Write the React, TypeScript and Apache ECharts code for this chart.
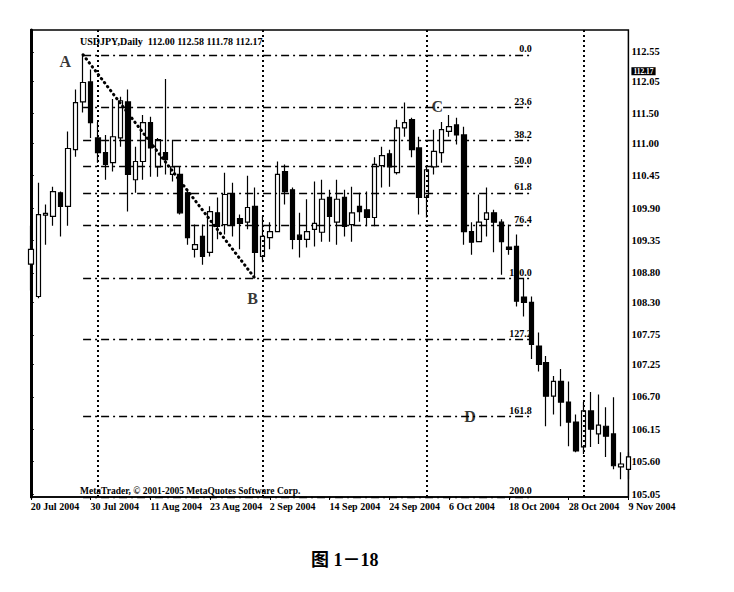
import { useEffect, useRef } from 'react';
import * as echarts from 'echarts';

// trading days shown on the chart, 20 Jul 2004 .. 9 Nov 2004
const dates = [
  '20 Jul 2004', '21 Jul 2004', '22 Jul 2004', '23 Jul 2004', '26 Jul 2004', '27 Jul 2004', '28 Jul 2004', '29 Jul 2004', '30 Jul 2004',
  '2 Aug 2004', '3 Aug 2004', '4 Aug 2004', '5 Aug 2004', '6 Aug 2004', '9 Aug 2004', '10 Aug 2004', '11 Aug 2004', '12 Aug 2004', '13 Aug 2004',
  '16 Aug 2004', '17 Aug 2004', '18 Aug 2004', '19 Aug 2004', '20 Aug 2004', '23 Aug 2004', '24 Aug 2004', '25 Aug 2004', '26 Aug 2004', '27 Aug 2004',
  '30 Aug 2004', '31 Aug 2004',
  '1 Sep 2004', '2 Sep 2004', '3 Sep 2004', '6 Sep 2004', '7 Sep 2004', '8 Sep 2004', '9 Sep 2004', '10 Sep 2004', '13 Sep 2004', '14 Sep 2004',
  '15 Sep 2004', '16 Sep 2004', '17 Sep 2004', '20 Sep 2004', '21 Sep 2004', '22 Sep 2004', '23 Sep 2004', '24 Sep 2004', '27 Sep 2004', '28 Sep 2004',
  '29 Sep 2004', '30 Sep 2004',
  '1 Oct 2004', '4 Oct 2004', '5 Oct 2004', '6 Oct 2004', '7 Oct 2004', '8 Oct 2004', '11 Oct 2004', '12 Oct 2004', '13 Oct 2004', '14 Oct 2004',
  '15 Oct 2004', '18 Oct 2004', '19 Oct 2004', '20 Oct 2004', '21 Oct 2004', '22 Oct 2004', '25 Oct 2004', '26 Oct 2004', '27 Oct 2004', '28 Oct 2004',
  '29 Oct 2004',
  '1 Nov 2004', '2 Nov 2004', '3 Nov 2004', '4 Nov 2004', '5 Nov 2004', '8 Nov 2004', '9 Nov 2004',
];

const opens = [
  108.95, 108.40, 109.78, 109.76, 110.16, 109.93, 110.89, 111.70, 112.04, 111.09,
  110.84, 110.67, 111.09, 111.70, 110.38, 110.69, 111.35, 110.60, 110.84, 110.47,
  110.47, 110.16, 109.20, 109.42, 109.15, 109.82, 109.62, 110.13, 109.72, 109.66,
  109.93, 109.08, 109.40, 109.50, 110.52, 110.21, 109.44, 109.37, 109.54, 109.49,
  110.08, 109.66, 110.08, 109.62, 109.93, 109.87, 109.74, 110.62, 110.82, 110.50,
  111.26, 111.40, 110.92, 110.08, 110.60, 110.84, 111.20, 111.31, 111.14, 109.50,
  109.33, 109.71, 109.82, 109.66, 109.24, 109.25, 108.39, 108.30, 107.56, 107.28,
  106.71, 106.96, 106.61, 106.27, 105.85, 106.46, 106.07, 106.20, 106.07, 105.51,
  105.47,
];
const closes = [
  109.20, 109.79, 109.81, 110.18, 109.93, 110.91, 111.69, 112.03, 111.35, 110.84,
  110.64, 111.11, 111.72, 110.47, 110.69, 111.35, 110.92, 111.06, 110.72, 110.60,
  109.82, 109.40, 109.28, 109.08, 109.84, 109.59, 110.13, 109.62, 109.64, 109.91,
  109.15, 109.42, 109.50, 110.47, 110.18, 109.37, 109.37, 109.50, 109.64, 110.05,
  109.76, 110.05, 109.59, 109.82, 109.84, 109.74, 110.64, 110.79, 110.60, 111.26,
  111.35, 110.89, 110.08, 110.55, 110.86, 111.23, 111.28, 111.14, 109.50, 109.32,
  109.66, 109.82, 109.66, 109.33, 109.20, 108.32, 108.30, 107.59, 107.25, 106.71,
  106.96, 106.61, 106.27, 105.78, 106.46, 106.15, 106.22, 106.03, 105.53, 105.56,
  105.68,
];
const lows = [
  108.50, 108.37, 109.28, 109.60, 109.42, 109.60, 110.77, 111.52, 111.09, 110.67,
  110.38, 110.52, 110.94, 109.84, 110.16, 110.38, 110.43, 110.43, 110.47, 110.35,
  109.79, 109.28, 109.06, 108.94, 109.08, 109.37, 109.45, 109.42, 109.20, 109.54,
  108.71, 108.98, 109.20, 109.49, 109.96, 109.20, 109.06, 109.23, 109.25, 109.33,
  109.33, 109.28, 109.42, 109.33, 109.67, 109.59, 109.59, 110.25, 110.26, 110.47,
  111.11, 110.76, 109.79, 109.74, 110.47, 110.67, 111.11, 110.98, 109.28, 109.11,
  109.32, 109.42, 109.15, 108.77, 109.11, 108.23, 108.06, 107.34, 107.13, 106.20,
  106.40, 106.20, 105.86, 105.76, 105.73, 105.85, 105.90, 105.68, 105.47, 105.30,
  105.30,
];
const highs = [
  109.60, 110.33, 109.96, 110.26, 110.18, 111.20, 111.91, 112.50, 112.25, 111.36,
  111.14, 111.75, 111.79, 111.91, 110.94, 111.48, 111.45, 111.09, 112.09, 111.06,
  110.60, 110.21, 109.62, 109.62, 109.93, 110.08, 110.50, 110.33, 109.79, 110.45,
  110.25, 109.76, 109.66, 110.69, 110.64, 110.25, 109.82, 110.05, 110.35, 110.38,
  110.21, 110.38, 110.21, 110.26, 110.16, 110.18, 110.76, 110.94, 110.89, 111.40,
  111.69, 111.43, 111.11, 110.60, 111.23, 111.36, 111.48, 111.43, 111.28, 109.66,
  110.13, 110.25, 109.87, 109.71, 109.62, 109.45, 108.72, 108.40, 107.79, 107.39,
  107.05, 107.17, 106.96, 106.40, 106.61, 106.78, 106.74, 106.52, 106.69, 105.76,
  105.76,
];

const yTicks = [105.05, 105.6, 106.15, 106.7, 107.25, 107.75, 108.3, 108.8, 109.35, 109.9, 110.45, 111.0, 111.5, 112.05, 112.55];
const xLabelIdx = [0, 8, 16, 24, 32, 40, 48, 56, 64, 72, 80];
const monthStarts = [9, 31, 53, 74];
const fibRatios = [0, 23.6, 38.2, 50.0, 61.8, 76.4, 100.0, 127.2, 161.8, 200.0];
const swingHighIdx = 7;
const swingLowIdx = 30;
const pointLabels = [
  { name: 'A', value: [4.6, 112.38] },
  { name: 'B', value: [29.7, 108.37] },
  { name: 'C', value: [54.4, 111.63] },
  { name: 'D', value: [58.8, 106.37] },
];
const lastQuote = 112.17;
const header = 'USDJPY,Daily  112.00 112.58 111.78 112.17';
const copyright = 'MetaTrader, © 2001-2005 MetaQuotes Software Corp.';
const caption = '图 1－18';

const Y_MIN = 105.0;
const Y_MAX = 112.92;
const FIB_END = 67.2;
const SERIF = "'Liberation Serif', 'Times New Roman', serif";

export default function App() {
  const chartRef = useRef<HTMLDivElement>(null);

  useEffect(() => {
    if (!chartRef.current) return;
    document.body.style.margin = '0';
    const chart = echarts.init(chartRef.current, undefined, { renderer: 'svg' });

    const candleData = dates.map((_, i) => [i, opens[i], closes[i], lows[i], highs[i]]);
    const swingHigh = highs[swingHighIdx];
    const swingLow = lows[swingLowIdx];

    const fibStyle = { color: '#000', width: 1.4, type: [8, 4, 2, 4] as number[] };
    const fibLines = fibRatios.map((r) => {
      // the 200 level sits just under the frame, keep it on the bottom edge
      const level = Math.max(swingHigh - (r / 100) * (swingHigh - swingLow), Y_MIN + 0.001);
      return [
        {
          coord: [swingHighIdx, level],
          lineStyle: fibStyle,
          label: {
            show: true,
            position: 'insideEndTop',
            distance: 1,
            formatter: r.toFixed(1),
            color: '#000',
            fontFamily: SERIF,
            fontWeight: 'bold',
            fontSize: 10,
          },
        },
        { coord: [FIB_END, level] },
      ];
    });

    const separators = monthStarts.map((i) => ({
      xAxis: i,
      lineStyle: { color: '#000', width: 2, type: [2, 3] as number[] },
      label: { show: false },
    }));

    const quoteTag = {
      yAxis: lastQuote,
      lineStyle: { color: 'rgba(0,0,0,0)', width: 0 },
      label: {
        show: true,
        position: 'end',
        distance: 3,
        offset: [0, -3],
        formatter: lastQuote.toFixed(2),
        backgroundColor: '#000',
        color: '#fff',
        padding: [0, 2],
        lineHeight: 8,
        fontFamily: SERIF,
        fontWeight: 'bold',
        fontSize: 7.5,
      },
    };

    const option: any = {
      animation: false,
      backgroundColor: '#fff',
      title: [
        {
          text: header,
          left: 75,
          top: 31,
          textStyle: { fontFamily: SERIF, fontWeight: 'bold', fontSize: 10, color: '#000' },
        },
        {
          text: copyright,
          left: 75,
          top: 481,
          textStyle: { fontFamily: SERIF, fontWeight: 'bold', fontSize: 9.5, color: '#000' },
        },
        {
          text: caption,
          left: 306,
          top: 546,
          textStyle: {
            fontFamily: "'Liberation Serif', 'Noto Sans CJK SC', serif",
            fontWeight: 'bold',
            fontSize: 18,
            color: '#000',
          },
        },
      ],
      grid: {
        left: 30.8,
        top: 30,
        width: 597.6,
        height: 467,
        show: true,
        borderColor: '#000',
        borderWidth: 1.5,
        backgroundColor: '#fff',
      },
      xAxis: {
        type: 'value',
        min: 0,
        max: 80,
        splitLine: { show: false },
        axisLine: { show: true, lineStyle: { color: '#000', width: 1.5 } },
        axisTick: { show: true, customValues: xLabelIdx, length: 3, lineStyle: { color: '#000' } },
        axisLabel: {
          customValues: xLabelIdx,
          formatter: (v: number) => dates[Math.round(v)] ?? '',
          align: 'left',
          margin: 4,
          color: '#000',
          fontFamily: SERIF,
          fontWeight: 'bold',
          fontSize: 10,
        },
      },
      yAxis: [
        {
          type: 'value',
          position: 'right',
          min: Y_MIN,
          max: Y_MAX,
          splitLine: { show: false },
          axisLine: { show: true, lineStyle: { color: '#000', width: 1.5 } },
          axisTick: { show: true, customValues: yTicks, length: 3, lineStyle: { color: '#000' } },
          axisLabel: {
            customValues: yTicks,
            formatter: (v: number) => v.toFixed(2),
            margin: 3,
            lineHeight: 10,
            color: '#000',
            fontFamily: SERIF,
            fontWeight: 'bold',
            fontSize: 10.5,
          },
        },
        {
          type: 'value',
          position: 'left',
          min: Y_MIN,
          max: Y_MAX,
          splitLine: { show: false },
          axisLine: { show: true, lineStyle: { color: '#000', width: 3 } },
          axisTick: { show: false },
          axisLabel: { show: false },
        },
      ],
      series: [
        {
          name: 'USDJPY',
          type: 'candlestick',
          data: candleData,
          encode: { x: 0, y: [1, 2, 3, 4] },
          barWidth: 5,
          itemStyle: {
            color: '#fff',
            color0: '#000',
            borderColor: '#000',
            borderColor0: '#000',
            borderWidth: 1.2,
          },
          markLine: {
            silent: true,
            symbol: ['none', 'none'],
            animation: false,
            data: [...fibLines, ...separators, quoteTag],
          },
        },
        {
          name: 'AB',
          type: 'line',
          data: [
            [swingHighIdx, swingHigh],
            [swingLowIdx, swingLow],
          ],
          symbol: 'none',
          silent: true,
          lineStyle: { color: '#000', width: 3, type: [0.5, 4.5], cap: 'round' },
        },
        {
          name: 'points',
          type: 'scatter',
          data: pointLabels,
          symbolSize: 1,
          itemStyle: { color: 'rgba(0,0,0,0)' },
          silent: true,
          label: {
            show: true,
            position: 'inside',
            formatter: '{b}',
            color: '#000',
            fontFamily: SERIF,
            fontWeight: 'bold',
            fontSize: 16,
          },
        },
      ],
    };

    chart.setOption(option);
    return () => {
      chart.dispose();
    };
  }, []);

  return <div ref={chartRef} style={{ width: 734, height: 592 }} />;
}
